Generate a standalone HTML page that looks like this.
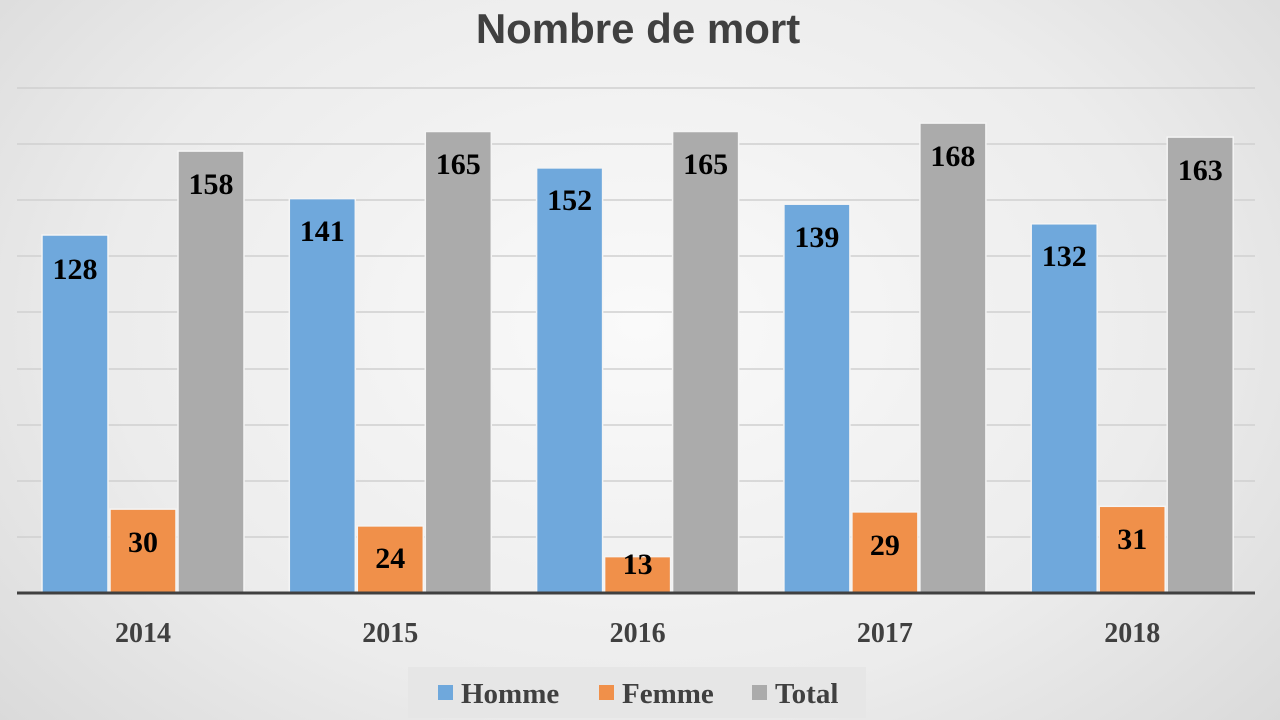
<!DOCTYPE html>
<html><head><meta charset="utf-8"><style>
html,body{margin:0;padding:0}
body{width:1280px;height:720px;overflow:hidden;background:radial-gradient(ellipse 75% 95% at 50% 45%,#fafafa 0%,#ececec 55%,#d4d4d4 100%);font-family:"Liberation Serif",serif}
svg{display:block}
</style></head><body>
<svg width="1280" height="720" xmlns="http://www.w3.org/2000/svg">
<text x="638" y="43" text-anchor="middle" font-family="Liberation Sans,sans-serif" font-weight="bold" font-size="42" fill="#404040">Nombre de mort</text>
<g stroke="#d0d0d0" stroke-width="1.5">
<line x1="17" x2="1255" y1="88" y2="88"/><line x1="17" x2="1255" y1="144" y2="144"/><line x1="17" x2="1255" y1="200" y2="200"/><line x1="17" x2="1255" y1="256" y2="256"/><line x1="17" x2="1255" y1="312" y2="312"/><line x1="17" x2="1255" y1="369" y2="369"/><line x1="17" x2="1255" y1="425" y2="425"/><line x1="17" x2="1255" y1="481" y2="481"/><line x1="17" x2="1255" y1="537" y2="537"/>
</g>
<g stroke="#f4f4f4" stroke-width="1.5">
<rect x="42" y="235.0" width="66" height="358.0" fill="#6fa8dc"/>
<rect x="110" y="509.1" width="66" height="83.9" fill="#f0904a"/>
<rect x="178" y="151.1" width="66" height="441.9" fill="#ababab"/>
<rect x="289.3" y="198.6" width="66" height="394.4" fill="#6fa8dc"/>
<rect x="357.3" y="525.9" width="66" height="67.1" fill="#f0904a"/>
<rect x="425.3" y="131.5" width="66" height="461.5" fill="#ababab"/>
<rect x="536.6" y="167.9" width="66" height="425.1" fill="#6fa8dc"/>
<rect x="604.6" y="556.6" width="66" height="36.4" fill="#f0904a"/>
<rect x="672.6" y="131.5" width="66" height="461.5" fill="#ababab"/>
<rect x="783.9" y="204.2" width="66" height="388.8" fill="#6fa8dc"/>
<rect x="851.9" y="511.9" width="66" height="81.1" fill="#f0904a"/>
<rect x="919.9" y="123.1" width="66" height="469.9" fill="#ababab"/>
<rect x="1031.2" y="223.8" width="66" height="369.2" fill="#6fa8dc"/>
<rect x="1099.2" y="506.3" width="66" height="86.7" fill="#f0904a"/>
<rect x="1167.2" y="137.1" width="66" height="455.9" fill="#ababab"/>
</g>
<g font-family="Liberation Serif,serif" font-weight="bold" font-size="30" text-anchor="middle" fill="#000">
<text x="75" y="279">128</text><text x="143" y="552">30</text><text x="211" y="194">158</text>
<text x="322.3" y="241">141</text><text x="390.3" y="568">24</text><text x="458.3" y="174">165</text>
<text x="569.6" y="210">152</text><text x="637.6" y="574">13</text><text x="705.6" y="174">165</text>
<text x="816.9" y="247">139</text><text x="884.9" y="555">29</text><text x="952.9" y="166">168</text>
<text x="1064.2" y="266">132</text><text x="1132.2" y="549">31</text><text x="1200.2" y="180">163</text>
</g>
<g font-family="Liberation Serif,serif" font-weight="bold" font-size="28" text-anchor="middle" fill="#404040">
<text x="143" y="642">2014</text><text x="390.3" y="642">2015</text><text x="637.6" y="642">2016</text><text x="884.9" y="642">2017</text><text x="1132.2" y="642">2018</text>
</g>
<line x1="17" x2="1255" y1="593" y2="593" stroke="#404040" stroke-width="3"/>
<rect x="408" y="667" width="458" height="51" fill="#e6e6e6"/>
<g font-family="Liberation Serif,serif" font-weight="bold" font-size="29" fill="#404040">
<rect x="438" y="685" width="15" height="15" fill="#6fa8dc"/><text x="461" y="703">Homme</text>
<rect x="599" y="685" width="15" height="15" fill="#f0904a"/><text x="622" y="703">Femme</text>
<rect x="752" y="685" width="15" height="15" fill="#ababab"/><text x="775" y="703">Total</text>
</g>
</svg>
</body></html>
